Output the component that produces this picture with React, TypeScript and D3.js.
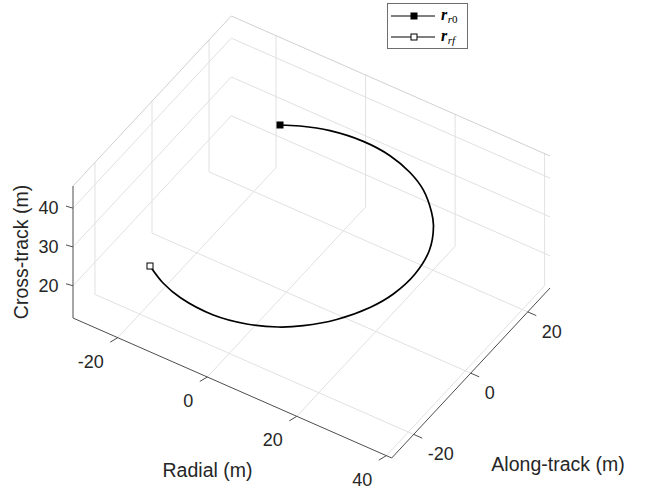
import { useRef, useEffect } from "react";
import * as d3 from "d3";

// trajectory samples (m)
const radial = [-14.04, -10.9, -5.62, 1.07, 7.25, 12.73, 17.23, 21.62, 23.83, 26.57, 27.65, 26.99, 25.11, 21.43, 16.88, 12.89, 7.31, 0.51, -7.4, -12.44, -17.27];
const along = [19.83, 21.9, 24.13, 25.31, 24.99, 23.4, 20.99, 16.98, 14.21, 8.51, 1.74, -4.83, -10.06, -15.96, -20.53, -23.13, -25.35, -26.4, -25.48, -23.6, -20.68];
const cross = [32.0, 31.7, 31.4, 31.1, 30.8, 30.5, 30.2, 29.9, 29.6, 29.3, 29.0, 28.7, 28.4, 28.1, 27.8, 27.5, 27.2, 26.9, 26.6, 26.3, 26.0];

const radialTicks = [-20, 0, 20, 40];
const alongTicks = [-20, 0, 20];
const crossTicks = [20, 30, 40];

const radialLim = [-30, 41.2];
const alongLim = [-27.7, 27.8];
const crossLim = [11.7, 45.7];

const legendLabels = [
  { base: "r", sub: "r", sub2: "0", filled: true },
  { base: "r", sub: "rf", sub2: "", filled: false },
];

export default function App() {
  const ref = useRef<SVGSVGElement>(null);
  useEffect(() => {
    const svg = d3.select(ref.current);
    svg.selectAll("*").remove();

    // screen geometry of the 3D box (view from matlab)
    const corner = [73, 318];
    const vR = [318.7, 140];
    const vA = [158.3, -170];
    const vC = [0, -132];

    const fr = d3.scaleLinear().domain(radialLim).range([0, 1]);
    const fa = d3.scaleLinear().domain(alongLim).range([0, 1]);
    const fc = d3.scaleLinear().domain(crossLim).range([0, 1]);

    const P = (r: number, a: number, c: number): [number, number] => {
      const u = fr(r), v = fa(a), w = fc(c);
      return [
        corner[0] + u * vR[0] + v * vA[0] + w * vC[0],
        corner[1] + u * vR[1] + v * vA[1] + w * vC[1],
      ];
    };

    const [r0, r1] = radialLim;
    const [a0, a1] = alongLim;
    const [c0, c1] = crossLim;

    const seg = (p: [number, number], q: [number, number], color: string, w: number) =>
      svg.append("line")
        .attr("x1", p[0]).attr("y1", p[1])
        .attr("x2", q[0]).attr("y2", q[1])
        .attr("stroke", color).attr("stroke-width", w);

    const gridColor = "#e1e1e1";
    // floor grid
    radialTicks.forEach((t) => seg(P(t, a0, c0), P(t, a1, c0), gridColor, 1));
    alongTicks.forEach((t) => seg(P(r0, t, c0), P(r1, t, c0), gridColor, 1));
    // left back wall (radial = min)
    alongTicks.forEach((t) => seg(P(r0, t, c0), P(r0, t, c1), gridColor, 1));
    crossTicks.forEach((t) => seg(P(r0, a0, t), P(r0, a1, t), gridColor, 1));
    // right back wall (along = max)
    radialTicks.forEach((t) => seg(P(t, a1, c0), P(t, a1, c1), gridColor, 1));
    crossTicks.forEach((t) => seg(P(r0, a1, t), P(r1, a1, t), gridColor, 1));

    // top box edges
    seg(P(r0, a0, c1), P(r0, a1, c1), "#c4c4c4", 0.8);
    seg(P(r0, a1, c1), P(r1, a1, c1), "#c4c4c4", 0.8);

    // axis lines
    const axisColor = "#4d4d4d";
    seg(P(r0, a0, c0), P(r0, a0, c1), axisColor, 1);
    seg(P(r0, a0, c0), P(r1, a0, c0), axisColor, 1);
    seg(P(r1, a0, c0), P(r1, a1, c0), axisColor, 1);

    const textColor = "#262626";
    const font = "'Liberation Sans', Arial, sans-serif";

    // radial ticks
    radialTicks.forEach((t) => {
      const p = P(t, a0, c0);
      seg(p, [p[0] - 7.5, p[1] + 4.5], axisColor, 1);
      svg.append("text")
        .attr("x", p[0] - 14).attr("y", p[1] + 24)
        .attr("text-anchor", "end").attr("dominant-baseline", "central")
        .attr("font-family", font).attr("font-size", 18).attr("fill", textColor)
        .text(t);
    });
    // along-track ticks
    alongTicks.forEach((t) => {
      const p = P(r1, t, c0);
      seg(p, [p[0] + 8.5, p[1] + 3.7], axisColor, 1);
      svg.append("text")
        .attr("x", p[0] + 14).attr("y", p[1] + 20)
        .attr("text-anchor", "start").attr("dominant-baseline", "central")
        .attr("font-family", font).attr("font-size", 18).attr("fill", textColor)
        .text(t);
    });
    // cross-track ticks
    crossTicks.forEach((t) => {
      const p = P(r0, a0, t);
      seg(p, [p[0] - 7, p[1] - 2], axisColor, 1);
      svg.append("text")
        .attr("x", p[0] - 14.5).attr("y", p[1])
        .attr("text-anchor", "end").attr("dominant-baseline", "central")
        .attr("font-family", font).attr("font-size", 18).attr("fill", textColor)
        .text(t);
    });

    // axis labels
    svg.append("text")
      .attr("x", 207.5).attr("y", 477)
      .attr("text-anchor", "middle")
      .attr("font-family", font).attr("font-size", 19.5).attr("fill", textColor)
      .text("Radial (m)");
    svg.append("text")
      .attr("x", 558).attr("y", 471)
      .attr("text-anchor", "middle")
      .attr("font-family", font).attr("font-size", 19.5).attr("fill", textColor)
      .text("Along-track (m)");
    svg.append("text")
      .attr("transform", "translate(27.5,252) rotate(-90)")
      .attr("text-anchor", "middle")
      .attr("font-family", font).attr("font-size", 19.5).attr("fill", textColor)
      .text("Cross-track (m)");

    // trajectory
    const pts = radial.map((r, i) => P(r, along[i], cross[i]));
    const line = d3.line().curve(d3.curveCatmullRom.alpha(0.5));
    svg.append("path")
      .attr("d", line(pts))
      .attr("fill", "none").attr("stroke", "#000").attr("stroke-width", 1.7);

    const first = pts[0];
    const last = pts[pts.length - 1];
    svg.append("rect")
      .attr("x", first[0] - 3.5).attr("y", first[1] - 3.5)
      .attr("width", 7).attr("height", 7).attr("fill", "#000");
    svg.append("rect")
      .attr("x", last[0] - 3).attr("y", last[1] - 3)
      .attr("width", 6).attr("height", 6)
      .attr("fill", "#fff").attr("stroke", "#000").attr("stroke-width", 1);

    // legend
    const lg = svg.append("g");
    lg.append("rect")
      .attr("x", 387.5).attr("y", 3.5).attr("width", 80).attr("height", 45)
      .attr("fill", "#fff").attr("stroke", "#6e6e6e").attr("stroke-width", 1);
    legendLabels.forEach((d, i) => {
      const y = 16 + i * 21;
      lg.append("line").attr("x1", 391).attr("x2", 435).attr("y1", y).attr("y2", y)
        .attr("stroke", "#000").attr("stroke-width", 1);
      if (d.filled) {
        lg.append("rect").attr("x", 410.5).attr("y", y - 3.5).attr("width", 7).attr("height", 7)
          .attr("fill", "#000");
      } else {
        lg.append("rect").attr("x", 411).attr("y", y - 3).attr("width", 6).attr("height", 6)
          .attr("fill", "#fff").attr("stroke", "#000").attr("stroke-width", 1);
      }
      const t = lg.append("text")
        .attr("x", 441).attr("y", y + 4)
        .attr("font-family", "'Liberation Serif', 'DejaVu Serif', serif")
        .attr("fill", "#000");
      t.append("tspan").attr("font-size", 16).attr("font-weight", "bold").attr("font-style", "italic").text(d.base);
      t.append("tspan").attr("font-size", 11).attr("font-style", "italic").attr("dy", 3).attr("dx", 0.5).text(d.sub);
      if (d.sub2) t.append("tspan").attr("font-size", 11).text(d.sub2);
    });
  }, []);
  return (
    <svg
      ref={ref}
      width={646}
      height={491}
      style={{ position: "absolute", left: 0, top: 0, background: "#fff" }}
    />
  );
}
